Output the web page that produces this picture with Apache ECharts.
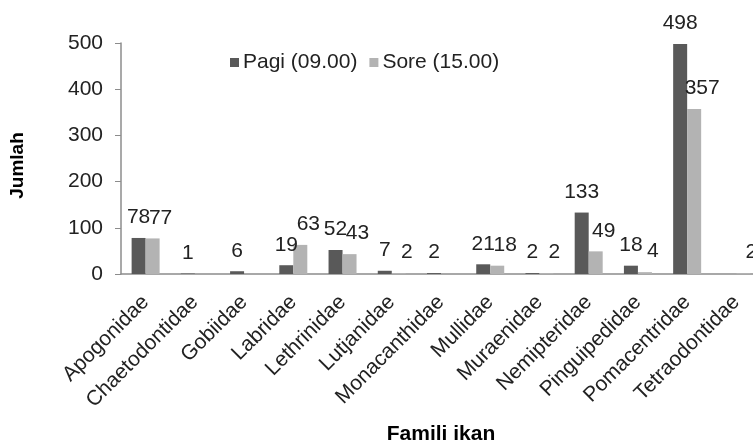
<!DOCTYPE html>
<html>
<head>
<meta charset="utf-8">
<script src="https://cdn.jsdelivr.net/npm/echarts@6/dist/echarts.min.js"></script>
<style>html,body{margin:0;padding:0;background:#fff;}#c{width:753px;height:441px;}</style>
</head>
<body>
<div id="c"></div>
<script>
const categories = ['Apogonidae','Chaetodontidae','Gobiidae','Labridae','Lethrinidae','Lutjanidae','Monacanthidae','Mullidae','Muraenidae','Nemipteridae','Pinguipedidae','Pomacentridae','Tetraodontidae'];
const pagi = [78, 1, 6, 19, 52, 7, 2, 21, 2, 133, 18, 498, 0];
const sore = [77, 0, 0, 63, 43, 2, 0, 18, 2, 49, 4, 357, 2];
const yTicks = [0, 100, 200, 300, 400, 500];

const FONT = 'Liberation Sans, Arial, sans-serif';
const chart = echarts.init(document.getElementById('c'), null, {renderer: 'canvas'});
function labelCfg(offsetX) {
  return {
    show: true, position: 'top', distance: 10, offset: [offsetX, 0],
    fontFamily: FONT, fontSize: 21, color: '#222',
    formatter: p => (p.value === 0 ? '' : String(p.value))
  };
}
chart.setOption({
  animation: false,
  textStyle: {fontFamily: FONT},
  legend: {
    left: 225, top: 47, itemWidth: 9, itemHeight: 9, itemGap: 12,
    icon: 'rect',
    textStyle: {fontFamily: FONT, fontSize: 21, color: '#222', padding: [0,0,0,-1]},
    data: ['Pagi (09.00)', 'Sore (15.00)']
  },
  grid: {left: 121, right: -8, top: 43, bottom: 167, containLabel: false, outerBoundsMode: 'none'},
  xAxis: {
    type: 'category', data: categories,
    name: 'Famili ikan', nameLocation: 'middle', nameGap: 150,
    nameTextStyle: {fontFamily: FONT, fontSize: 21, fontWeight: 'bold', color: '#000', verticalAlign: 'top'},
    axisLine: {lineStyle: {color: '#8c8c8c', width: 1.5}},
    axisTick: {show: false},
    axisLabel: {rotate: 45, interval: 0, margin: 25, fontFamily: FONT, fontSize: 21, color: '#222'}
  },
  yAxis: {
    type: 'value', min: 0, max: 500, interval: 100,
    name: 'Jumlah', nameLocation: 'middle', nameGap: 94, nameRotate: 90,
    nameTextStyle: {fontFamily: FONT, fontSize: 19, fontWeight: 'bold', color: '#000', padding: [0, 14, 0, 0]},
    axisLine: {show: true, lineStyle: {color: '#8c8c8c', width: 1.5}},
    axisTick: {show: true, length: 6, lineStyle: {color: '#8c8c8c'}},
    splitLine: {show: false},
    axisLabel: {margin: 18, fontFamily: FONT, fontSize: 21, color: '#222',
      formatter: v => (yTicks.includes(v) ? String(v) : '')}
  },
  series: [
    {name: 'Pagi (09.00)', type: 'bar', data: pagi, barWidth: 14, barGap: '0%',
     itemStyle: {color: '#595959'}, label: labelCfg(0)},
    {name: 'Sore (15.00)', type: 'bar', data: sore, barWidth: 14, barGap: '0%',
     itemStyle: {color: '#b3b3b3'}, label: labelCfg(8)}
  ]
});
</script>
</body>
</html>
